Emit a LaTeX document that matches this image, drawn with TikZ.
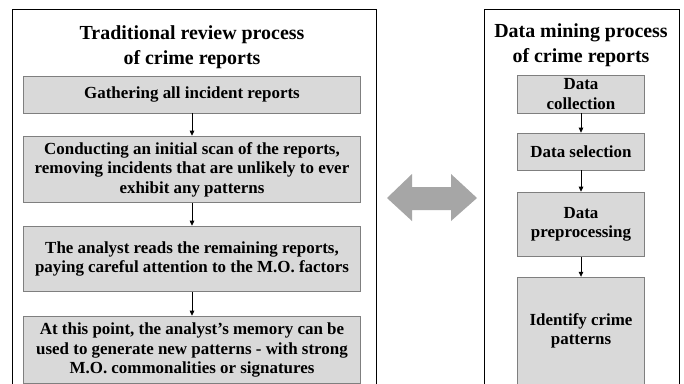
\documentclass[tikz,border=0pt]{standalone}
\usepackage{fontspec}
\setmainfont{Liberation Serif}
\usetikzlibrary{arrows.meta}
\definecolor{boxfill}{HTML}{D9D9D9}
\definecolor{boxline}{HTML}{7F7F7F}
\definecolor{bigarrow}{HTML}{A6A6A6}
\begin{document}
\begin{tikzpicture}[x=1bp,y=-1bp,
  procbox/.style={draw=boxline, line width=0.8bp, fill=boxfill, align=center, inner sep=0pt,
    font=\fontsize{17}{19.5}\selectfont\bfseries},
  titletext/.style={align=center, inner sep=0pt, font=\fontsize{20}{25}\selectfont\bfseries},
  frame/.style={draw=black, line width=1bp},
  flow/.style={-{Triangle[length=5bp,width=4.5bp]}, line width=0.8bp, black}]
\useasboundingbox (0,0) rectangle (684,383);
\clip (0,0) rectangle (684,383);
\fill[white] (0,0) rectangle (684,383);
% frames
\draw[frame] (12.5,9) rectangle (376,400);
\draw[frame] (484,9) rectangle (679,400);
% titles
\node[titletext] (lt) at (192,47.5) {Traditional review process\\of crime reports};
\node[titletext] (rt) at (581,45.5) {Data mining process\\of crime reports};
% left boxes
\node[procbox, minimum width=338, minimum height=37] (l1) at (192,94.5) {Gathering all incident reports};
\node[procbox, minimum width=338, minimum height=67] (l2) at (192,169.5) {Conducting an initial scan of the reports,\\removing incidents that are unlikely to ever\\exhibit any patterns};
\node[procbox, minimum width=338, minimum height=66] (l3) at (192,259) {The analyst reads the remaining reports,\\paying careful attention to the M.O. factors};
\node[procbox, minimum width=338, minimum height=68] (l4) at (192,350) {At this point, the analyst’s memory can be\\used to generate new patterns - with strong\\M.O. commonalities or signatures};
\draw[flow] (l1) -- (l2);
\draw[flow] (l2) -- (l3);
\draw[flow] (l3) -- (l4);
% right boxes
\node[procbox, minimum width=128, minimum height=38] (r1) at (581,94) {Data\\collection};
\node[procbox, minimum width=128, minimum height=37] (r2) at (581,151.5) {Data selection};
\node[procbox, minimum width=128, minimum height=65] (r3) at (581,224.5) {Data\\preprocessing};
\node[procbox, minimum width=128, minimum height=108] (r4) at (581,331) {Identify crime\\patterns};
\draw[flow] (r1) -- (r2);
\draw[flow] (r2) -- (r3);
\draw[flow] (r3) -- (r4);
% double arrow
\fill[bigarrow] (387,198) -- (412,174) -- (412,187) -- (451,187) -- (451,174) -- (477,198)
  -- (451,221) -- (451,210) -- (412,210) -- (412,221) -- cycle;
\end{tikzpicture}
\end{document}
